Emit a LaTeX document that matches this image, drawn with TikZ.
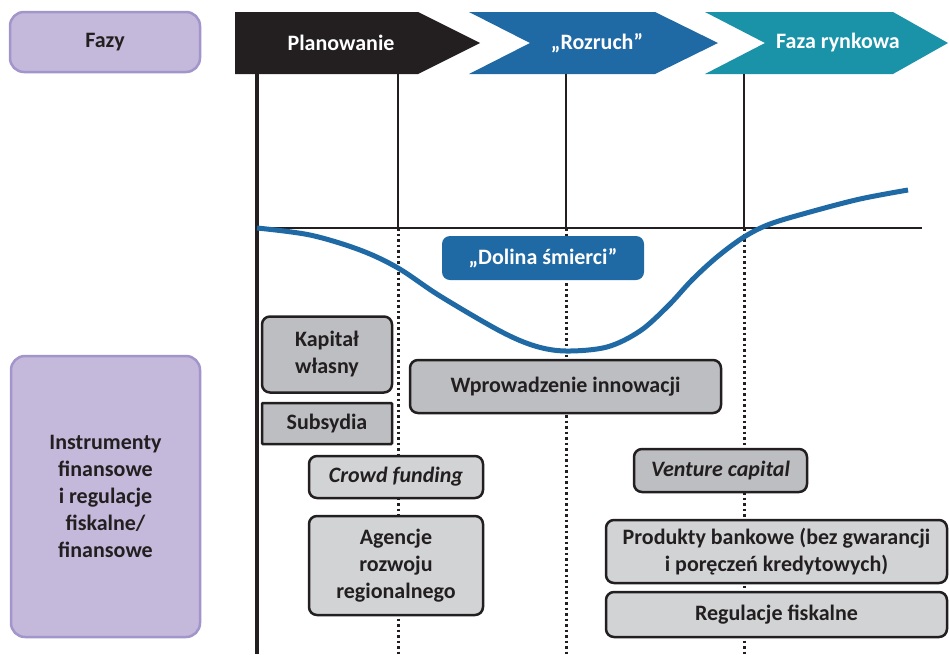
\documentclass[tikz,border=0pt]{standalone}
\usepackage{fontspec}
\setmainfont{Carlito}
\usepackage{tikz}
\usetikzlibrary{positioning}
\definecolor{lavfill}{HTML}{C4B9DB}
\definecolor{lavline}{HTML}{A295CB}
\definecolor{rozblue}{HTML}{1F69A4}
\definecolor{rynteal}{HTML}{1A93A9}
\definecolor{boxdark}{HTML}{BDBEC1}
\definecolor{boxlight}{HTML}{D2D3D5}
\definecolor{ink}{HTML}{231F20}
\newcommand\boxfont{\fontsize{22}{27}\selectfont\bfseries}
\tikzset{
    side/.style={rounded corners=14pt, fill=lavfill, draw=lavline, line width=2.5pt,
        align=center, font=\boxfont, text=ink, inner sep=0pt},
    tool/.style={rounded corners=8pt, fill=boxdark, draw=ink, line width=2.5pt,
        align=center, font=\boxfont, text=ink, inner sep=0pt},
    toollight/.style={tool, fill=boxlight},
    phasetext/.style={font=\boxfont, text=white},
    solidline/.style={draw=ink, line width=2.5pt},
    dotline/.style={draw=ink, line width=3pt, dash pattern=on 2.5pt off 3pt}
}

\begin{document}
\begin{tikzpicture}[x=1pt, y=-1pt]
    \useasboundingbox (0,0) rectangle (949,654);
    % phases
    \fill[ink] (235,12) -- (418,12) -- (480,43) -- (418,74) -- (235,74) -- cycle;
    \fill[rozblue] (469,12) -- (655,12) -- (718,43) -- (655,74) -- (469,74) -- (530,43) -- cycle;
    \fill[rynteal] (705,12) -- (893,12) -- (948,43) -- (893,74) -- (705,74) -- (765,43) -- cycle;
    \node[phasetext] (plan) at (341,43) {Planowanie};
    \node[phasetext] (rozruch) at (597,43) {„Rozruch”};
    \node[phasetext] (rynek) at (838,43) {Faza rynkowa};
    \node[side, minimum width=190pt, minimum height=60pt] (fazy) at (105,42) {Fazy};
    \node[side, minimum width=189pt, minimum height=281pt] (instr) at (105.5,496.5)
        {Instrumenty\\finansowe\\i regulacje\\fiskalne/\\finansowe};

    % grid
    \foreach \x in {398,566,744} {
        \draw[solidline] (\x,74) -- (\x,228);
        \draw[dotline] (\x,228) -- (\x,654);
    }
    \draw[solidline] (257,228) -- (922,228);
    \draw[draw=ink, line width=3.5pt] (257,74) -- (257,654);

    % valley curve
    \draw[rozblue, line width=5pt] plot[smooth, tension=0.55] coordinates {
        (257,228) (310,235) (360,250) (398,268) (440,296) (500,331) (535,346)
        (566,351) (607,347) (640,331) (668,306) (692,280) (717,257) (744,237)
        (770,224) (810,212) (860,199) (908,190)};
    \node[fill=rozblue, rounded corners=8pt, minimum width=202pt, minimum height=44pt,
        font=\boxfont, text=white] (dolina) at (543,258) {„Dolina śmierci”};

    % instruments
    \node[tool, minimum width=130pt, minimum height=76pt] (kapital) at (327,354.5) {Kapitał\\własny};
    \node[tool, rounded corners=1pt, minimum width=130pt, minimum height=41pt] (subsydia) at (327,423.5) {Subsydia};
    \node[tool, minimum width=311pt, minimum height=53pt] (innowacje) at (565.5,386.5) {Wprowadzenie innowacji};
    \node[toollight, minimum width=174pt, minimum height=42pt] (crowd) at (396,477) {\itshape Crowd funding};
    \node[toollight, minimum width=174pt, minimum height=99pt] (agencje) at (396,565.5) {Agencje\\rozwoju\\regionalnego};
    \node[tool, minimum width=173pt, minimum height=43pt] (venture) at (720.5,470.5) {\itshape Venture capital};
    \node[toollight, minimum width=341pt, minimum height=63pt] (produkty) at (776.5,551.5)
        {Produkty bankowe (bez gwarancji\\i poręczeń kredytowych)};
    \node[toollight, minimum width=341pt, minimum height=45pt] (regulacje) at (776.5,614.5) {Regulacje fiskalne};
\end{tikzpicture}
\end{document}
